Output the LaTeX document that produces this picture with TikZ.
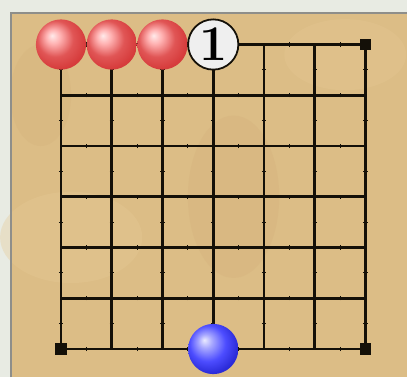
\documentclass[tikz,border=0pt]{standalone}
\usepackage{tikz}
\usetikzlibrary{calc}
\usepackage{xcolor}
\definecolor{frame}{HTML}{E8EBE3}
\definecolor{rim}{HTML}{8E8E8A}
\definecolor{wood}{HTML}{DCBD86}
\definecolor{woodlight}{HTML}{E6CA95}
\definecolor{wooddark}{HTML}{CDA872}
\definecolor{gridline}{HTML}{141008}
\definecolor{stonewhite}{HTML}{EFEFEF}

\pgfdeclareradialshading{redstone}{\pgfpoint{-9bp}{9bp}}{%
  color(0bp)=(red!8!white); color(7bp)=(red!30!white); color(18bp)=(red!62!white!88!black);
  color(28bp)=(red!72!white!84!black); color(50bp)=(red!75!white!78!black)}
\pgfdeclareradialshading{bluestone}{\pgfpoint{-9bp}{9bp}}{%
  color(0bp)=(blue!8!white); color(7bp)=(blue!35!white); color(18bp)=(blue!70!white);
  color(28bp)=(blue!80!white!85!black); color(50bp)=(blue!80!white!75!black)}

\begin{document}
\begin{tikzpicture}[x=1cm,y=1cm]
  \tikzset{
    stone/.style={circle,minimum size=0.99cm,inner sep=0pt},
    redball/.style={stone,shading=redstone},
    blueball/.style={stone,shading=bluestone},
    numbered/.style={stone,fill=stonewhite,draw=gridline,line width=1pt,
      font=\bfseries\fontsize{28}{28}\selectfont},
    hoshi/.style={fill=gridline,minimum size=0.22cm,inner sep=0pt}
  }
  \useasboundingbox (-1.202,-0.552) rectangle (6.818,6.877);

  % Frame and board
  \fill[frame] (-1.202,-0.552) rectangle (6.818,6.877);
  \fill[wood] (-0.985,-0.552) rectangle (6.818,6.62);
  \fill[woodlight,opacity=0.35] (0.2,2.2) ellipse (1.4 and 0.9);
  \fill[woodlight,opacity=0.3] (5.6,5.8) ellipse (1.2 and 0.7);
  \fill[wooddark,opacity=0.2] (3.4,3.0) ellipse (0.9 and 1.6);
  \fill[wooddark,opacity=0.18] (-0.4,5.0) ellipse (0.6 and 1.0);
  \draw[rim,line width=1.2pt] (-0.985,-0.552) -- (-0.985,6.62) -- (6.818,6.62);

  % Grid
  \foreach \i in {0,...,6} {
    \draw[gridline,line width=1.5pt] (\i,0) -- (\i,6);
    \draw[gridline,line width=1.5pt] (0,\i) -- (6,\i);
  }
  % small marks between points
  \foreach \i in {0,...,6} {
    \foreach \j in {0,...,5} {
      \draw[gridline,line width=0.6pt] (\j+0.5,\i-0.04) -- (\j+0.5,\i+0.04);
      \draw[gridline,line width=0.6pt] (\i-0.04,\j+0.5) -- (\i+0.04,\j+0.5);
    }
  }

  % Corner points
  \node[hoshi] (ne) at (6,6) {};
  \node[hoshi] (sw) at (0,0) {};
  \node[hoshi] (se) at (6,0) {};

  % Stones
  \node[redball] (r1) at (0,6) {};
  \node[redball] (r2) at (1,6) {};
  \node[redball] (r3) at (2,6) {};
  \node[numbered] (m1) at (3,6) {1};
  \node[blueball] (b1) at (3,0) {};
\end{tikzpicture}
\end{document}
